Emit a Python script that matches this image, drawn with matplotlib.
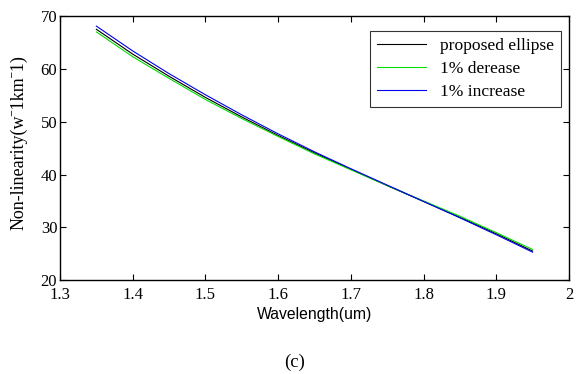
import numpy as np
import matplotlib
matplotlib.use("Agg")
import matplotlib.pyplot as plt

wavelength = [1.35, 1.40, 1.45, 1.50, 1.55, 1.60, 1.65, 1.70, 1.75, 1.80, 1.85, 1.90, 1.95]
proposed = [67.5, 62.8, 58.6, 54.6, 50.9, 47.4, 44.1, 41.0, 37.9, 34.9, 31.9, 28.8, 25.5]
decrease = [67.0, 62.3, 58.2, 54.2, 50.6, 47.2, 43.9, 40.9, 37.9, 35.0, 32.1, 29.0, 25.8]
increase = [68.1, 63.4, 59.1, 55.1, 51.3, 47.7, 44.3, 41.1, 38.0, 34.9, 31.8, 28.6, 25.3]

serif = ["Liberation Serif", "DejaVu Serif"]
sans = ["Liberation Sans", "DejaVu Sans"]

fig = plt.figure(figsize=(5.77, 3.74), dpi=100)
ax = fig.add_axes([0.104, 0.251, 0.882, 0.706])

ax.plot(wavelength, proposed, color="black", lw=0.8, label="proposed ellipse")
ax.plot(wavelength, decrease, color="#00dd00", lw=0.8, label="1% derease")
ax.plot(wavelength, increase, color="#0000ee", lw=0.8, label="1% increase")

ax.set_xlim(1.3, 2.0)
ax.set_ylim(20, 70)
ax.set_xticks([1.3, 1.4, 1.5, 1.6, 1.7, 1.8, 1.9, 2.0])
ax.set_xticklabels(["1.3", "1.4", "1.5", "1.6", "1.7", "1.8", "1.9", "2"])
ax.set_yticks([20, 30, 40, 50, 60, 70])
ax.tick_params(direction="in", top=True, right=True, length=4, width=0.8, labelsize=12)
ax.tick_params(axis="x", pad=5)
ax.tick_params(axis="y", pad=2)
for lab in ax.get_xticklabels() + ax.get_yticklabels():
    lab.set_family(serif)
for s in ax.spines.values():
    s.set_linewidth(1.0)

ax.set_xlabel("Wavelength(um)", family=sans, fontsize=11.3, labelpad=3)
ax.set_ylabel("Non-linearity(w\u02c91km\u02c91)", family=serif, fontsize=13, labelpad=6)
ax.yaxis.set_label_coords(-0.063, 0.52)

leg = ax.legend(loc="upper right", prop={"family": serif, "size": 12.6}, frameon=True,
                fancybox=False, edgecolor="black", handlelength=2.8, borderpad=0.4,
                labelspacing=0.38, bbox_to_anchor=(1.002, 0.978))
leg.get_frame().set_linewidth(0.8)

fig.text(0.511, 0.03, "(c)", family=serif, fontsize=13.5, ha="center", va="center")

fig.savefig("out.png", dpi=100)
